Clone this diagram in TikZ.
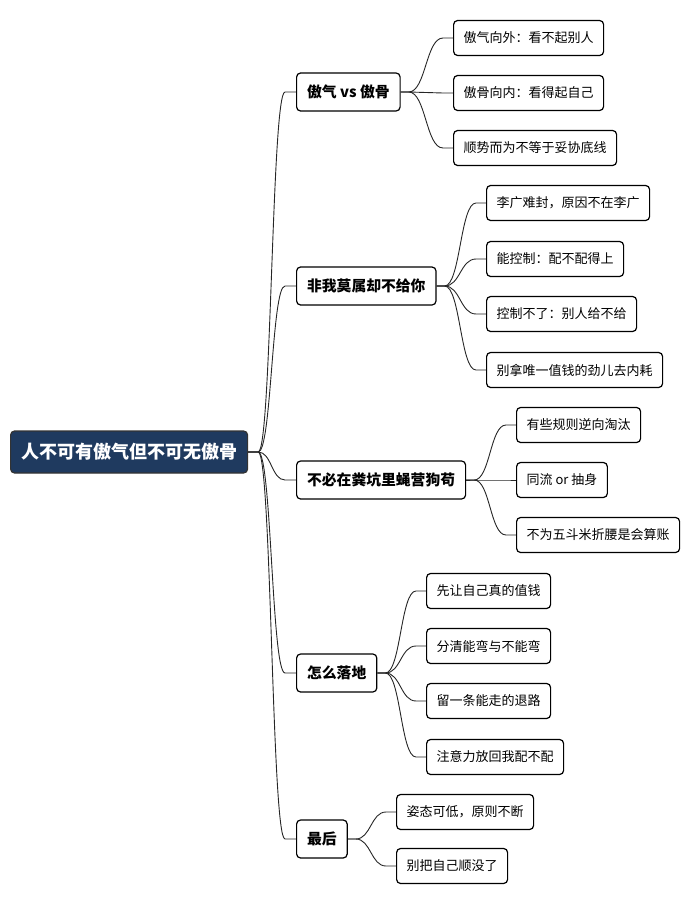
\documentclass[tikz,border=0pt]{standalone}
\usepackage{fontspec}
\setmainfont{Noto Sans CJK SC}
\usetikzlibrary{calc}
\definecolor{rootfill}{HTML}{1F3A5F}
\tikzset{
  box/.style={draw=black, line width=1.2pt, rounded corners=4pt, fill=white, anchor=west, inner xsep=10pt, inner ysep=0pt, text=black},
  rootbox/.style={box, fill=rootfill, draw=black!80, text=white, minimum height=42pt, inner xsep=10.5pt, font=\fontsize{18}{20}\selectfont\bfseries},
  lone/.style={box, minimum height=38pt, inner xsep=10.5pt, font=\fontsize{14.8}{17}\selectfont\bfseries},
  ltwo/.style={box, minimum height=35pt, font=\fontsize{13}{15}\selectfont},
  conn/.style={draw=black!85, line width=0.9pt}
}
\newcommand\conn[4]{%
  \path ($(#1.east)+(#3,0)$) coordinate (P) ($(#2.west)+(-#4,0)$) coordinate (Q) ($(P)!0.5!(Q)$) coordinate (M);
  \draw[conn] (#1.east) -- (P) .. controls (M |- P) and (M |- Q) .. (Q) -- (#2.west);}
\begin{document}
\begin{tikzpicture}[x=1pt,y=-1pt]
\useasboundingbox (0,0) rectangle (699,904);
\node[rootbox] (root) at (10,452) {人不可有傲气但不可无傲骨};
\node[lone] (a) at (296,92) {傲气 vs 傲骨};
\node[lone] (b) at (296,286) {非我莫属却不给你};
\node[lone] (c) at (296,480) {不必在粪坑里蝇营狗苟};
\node[lone] (d) at (296,673) {怎么落地};
\node[lone] (e) at (296,839) {最后};
\node[ltwo] (a1) at (453,38) {傲气向外：看不起别人};
\node[ltwo] (a2) at (453,93) {傲骨向内：看得起自己};
\node[ltwo] (a3) at (453,148) {顺势而为不等于妥协底线};
\node[ltwo] (b1) at (486,203) {李广难封，原因不在李广};
\node[ltwo] (b2) at (486,259) {能控制：配不配得上};
\node[ltwo] (b3) at (486,314) {控制不了：别人给不给};
\node[ltwo] (b4) at (486,370) {别拿唯一值钱的劲儿去内耗};
\node[ltwo] (c1) at (516,425) {有些规则逆向淘汰};
\node[ltwo] (c2) at (516,480) {同流 or 抽身};
\node[ltwo] (c3) at (516,535) {不为五斗米折腰是会算账};
\node[ltwo] (d1) at (426,591) {先让自己真的值钱};
\node[ltwo] (d2) at (426,646) {分清能弯与不能弯};
\node[ltwo] (d3) at (426,701) {留一条能走的退路};
\node[ltwo] (d4) at (426,757) {注意力放回我配不配};
\node[ltwo] (e1) at (396,812) {姿态可低，原则不断};
\node[ltwo] (e2) at (396,866) {别把自己顺没了};
\foreach \n in {a,b,c,d,e} {\conn{root}{\n}{10}{11}}
\foreach \n in {a1,a2,a3} {\conn{a}{\n}{8}{10}}
\foreach \n in {b1,b2,b3,b4} {\conn{b}{\n}{8}{10}}
\foreach \n in {c1,c2,c3} {\conn{c}{\n}{8}{10}}
\foreach \n in {d1,d2,d3,d4} {\conn{d}{\n}{8}{10}}
\foreach \n in {e1,e2} {\conn{e}{\n}{8}{10}}
\end{tikzpicture}
\end{document}
